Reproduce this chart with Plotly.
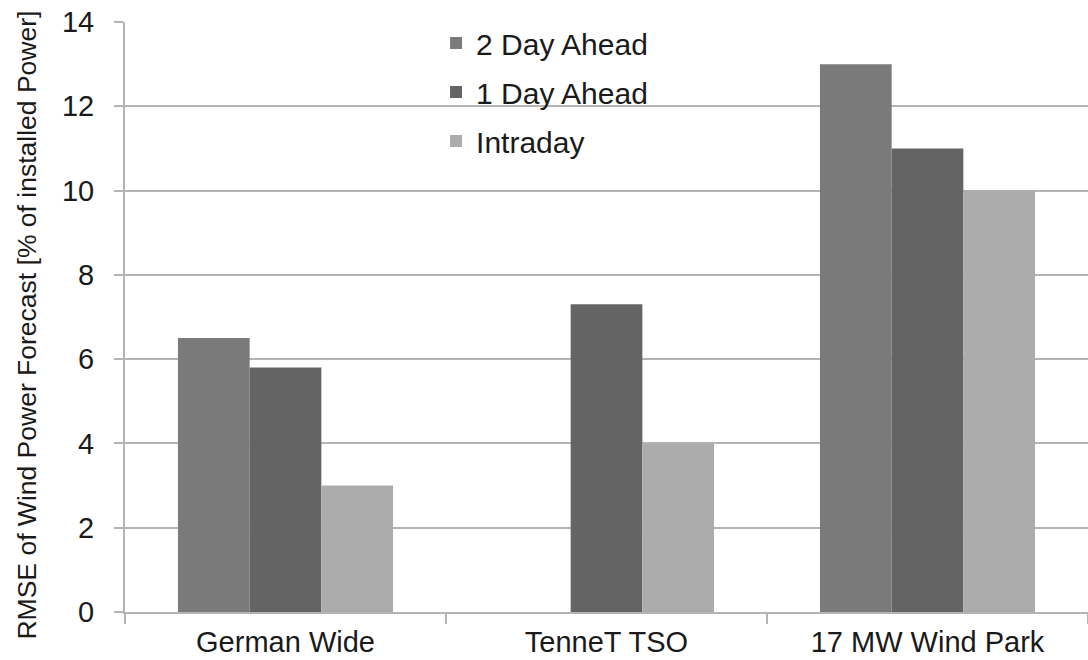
import plotly.graph_objects as go

categories = ["German Wide", "TenneT TSO", "17 MW Wind Park"]
two_day_ahead = [6.5, None, 13.0]
one_day_ahead = [5.8, 7.3, 11.0]
intraday = [3.0, 4.0, 10.0]
y_ticks = [0, 2, 4, 6, 8, 10, 12, 14]
y_title = "RMSE of Wind Power Forecast [% of installed Power]"

FONT = "Liberation Sans, Arial, sans-serif"
TEXT = "#1a1a1a"
GRID = "#b4b4b4"

series = [
    ("2 Day Ahead", two_day_ahead, "#7a7a7a"),
    ("1 Day Ahead", one_day_ahead, "#646464"),
    ("Intraday", intraday, "#acacac"),
]

fig = go.Figure()
for i, (name, vals, color) in enumerate(series):
    fig.add_trace(go.Bar(
        x=categories, y=vals, name=name,
        marker=dict(color=color, line=dict(width=0)),
        legendgroup=f"g{i}",
    ))

# rotated axis title placed as an annotation so it can sit slightly off-centre
fig.add_annotation(
    text=y_title, textangle=-90,
    xref="paper", yref="paper", x=-0.1015, y=0.486,
    xanchor="center", yanchor="middle", showarrow=False,
    font=dict(family=FONT, size=26.5, color=TEXT),
)

fig.update_layout(
    width=1088, height=660,
    margin=dict(l=125, r=0, t=22, b=48, autoexpand=False),
    paper_bgcolor="white", plot_bgcolor="white",
    font=dict(family=FONT, size=28, color=TEXT),
    barmode="group", bargap=0.33, bargroupgap=0,
    showlegend=True,
    legend=dict(
        x=0.323, y=1.0085, xanchor="left", yanchor="top",
        bgcolor="rgba(0,0,0,0)", borderwidth=0,
        font=dict(family=FONT, size=30, color=TEXT),
        traceorder="grouped", tracegroupgap=7,
        itemwidth=30,
    ),
    xaxis=dict(
        type="category", automargin=False,
        showline=True, linecolor=GRID, linewidth=2,
        ticks="outside", tickson="boundaries", ticklen=10,
        tickcolor=GRID, tickwidth=2,
        showgrid=False,
        ticklabelstandoff=3,
        tickfont=dict(family=FONT, size=29, color=TEXT),
    ),
    yaxis=dict(
        range=[0, 14], tickvals=y_ticks, automargin=False,
        showline=True, linecolor=GRID, linewidth=2,
        ticks="outside", ticklen=9, tickcolor=GRID, tickwidth=2,
        showgrid=True, gridcolor=GRID, gridwidth=2,
        zeroline=False,
        ticklabelstandoff=14,
        tickfont=dict(family=FONT, size=29, color=TEXT),
    ),
)

fig.write_html("out.html")
